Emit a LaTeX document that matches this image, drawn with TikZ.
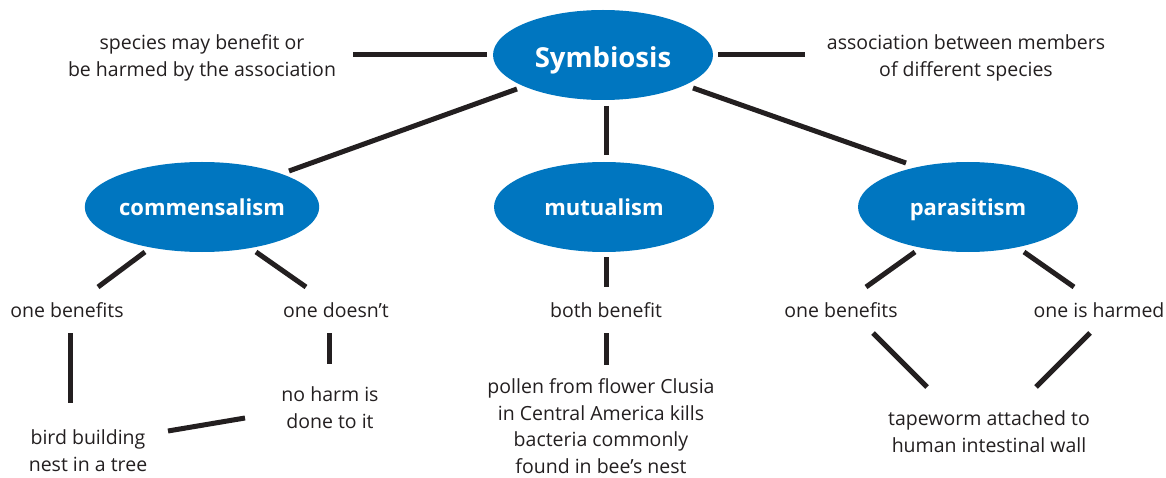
\documentclass[tikz,border=0pt]{standalone}
\usepackage{fontspec}
\setmainfont{Open Sans}
\usetikzlibrary{shapes.geometric,calc}
\definecolor{sblue}{RGB}{0,118,192}
\definecolor{ink}{RGB}{35,31,32}
\begin{document}
\begin{tikzpicture}[x=1pt,y=-1pt,
  bubble/.style={ellipse,fill=sblue,text=white,inner sep=0pt,minimum width=220pt,minimum height=90pt,
    font=\fontsize{22}{26}\selectfont\bfseries,text height=19pt,text depth=1pt},
  bigbubble/.style={bubble,font=\fontsize{27.5}{32}\selectfont\bfseries,text height=27pt,text depth=1pt},
  lbl/.style={text=ink,align=center,inner sep=0pt,font=\fontsize{19.5}{27}\selectfont},
  one/.style={lbl,text height=15pt,text depth=3pt},
  link/.style={draw=ink,line width=5pt}]
\useasboundingbox (0,0) rectangle (1166,478);
% nodes
\node[bigbubble] (sym) at (603,55) {Symbiosis};
\node[bubble] (com) at (202,207) {commensalism};
\node[bubble] (mut) at (604,207) {mutualism};
\node[bubble] (par) at (968,207) {parasitism};
\node[lbl] (lt) at (202,58) {species may benefit or\\be harmed by the association};
\node[lbl] (rt) at (966,58) {association between members\\of different species};
\node[one] (obA) at (67,311) {one benefits};
\node[one] (od) at (336,311) {one doesn’t};
\node[lbl] (nh) at (330,408) {no harm is\\done to it};
\node[lbl] (bb) at (88,450.5) {bird building\\nest in a tree};
\node[one] (bo) at (606,311) {both benefit};
\node[lbl,font=\fontsize{19.5}{26.5}\selectfont] (po) at (601,426) {pollen from flower Clusia\\in Central America kills\\bacteria commonly\\found in bee’s nest};
\node[one] (obB) at (841,311) {one benefits};
\node[one] (oh) at (1099,311) {one is harmed};
\node[lbl] (tw) at (989,431.5) {tapeworm attached to\\human intestinal wall};
% connectors
\draw[link] ($(sym)+(-116,0)$) -- ($(lt)+(151,-3)$);
\draw[link] ($(sym)+(115,0)$) -- ($(rt)+(-161,-3)$);
\draw[link] ($(sym)+(-86,34)$) -- ($(com)+(87,-36)$);
\draw[link] ($(sym)+(3,51)$) -- ($(mut)+(2,-52)$);
\draw[link] ($(sym)+(90,33)$) -- ($(par)+(-62,-44)$);
\draw[link] ($(com)+(-57,45)$) -- ($(obA)+(31,-24)$);
\draw[link] ($(com)+(54,45)$) -- ($(od)+(-30,-24)$);
\draw[link] ($(obA)+(3,22)$) -- ($(bb)+(-18,-47.5)$);
\draw[link] ($(od)+(-7,22)$) -- ($(nh)+(-1,-44)$);
\draw[link] ($(nh)+(-85,10)$) -- ($(bb)+(80,-19.5)$);
\draw[link] ($(mut)+(2,50)$) -- ($(bo)+(0,-24)$);
\draw[link] ($(bo)+(0,22)$) -- ($(po)+(5,-61)$);
\draw[link] ($(par)+(-53,45)$) -- ($(obB)+(25,-24)$);
\draw[link] ($(par)+(56,45)$) -- ($(oh)+(-25,-24)$);
\draw[link] ($(obB)+(32,22)$) -- ($(tw)+(-62,-44.5)$);
\draw[link] ($(oh)+(-9,22)$) -- ($(tw)+(47,-44.5)$);
\end{tikzpicture}
\end{document}
